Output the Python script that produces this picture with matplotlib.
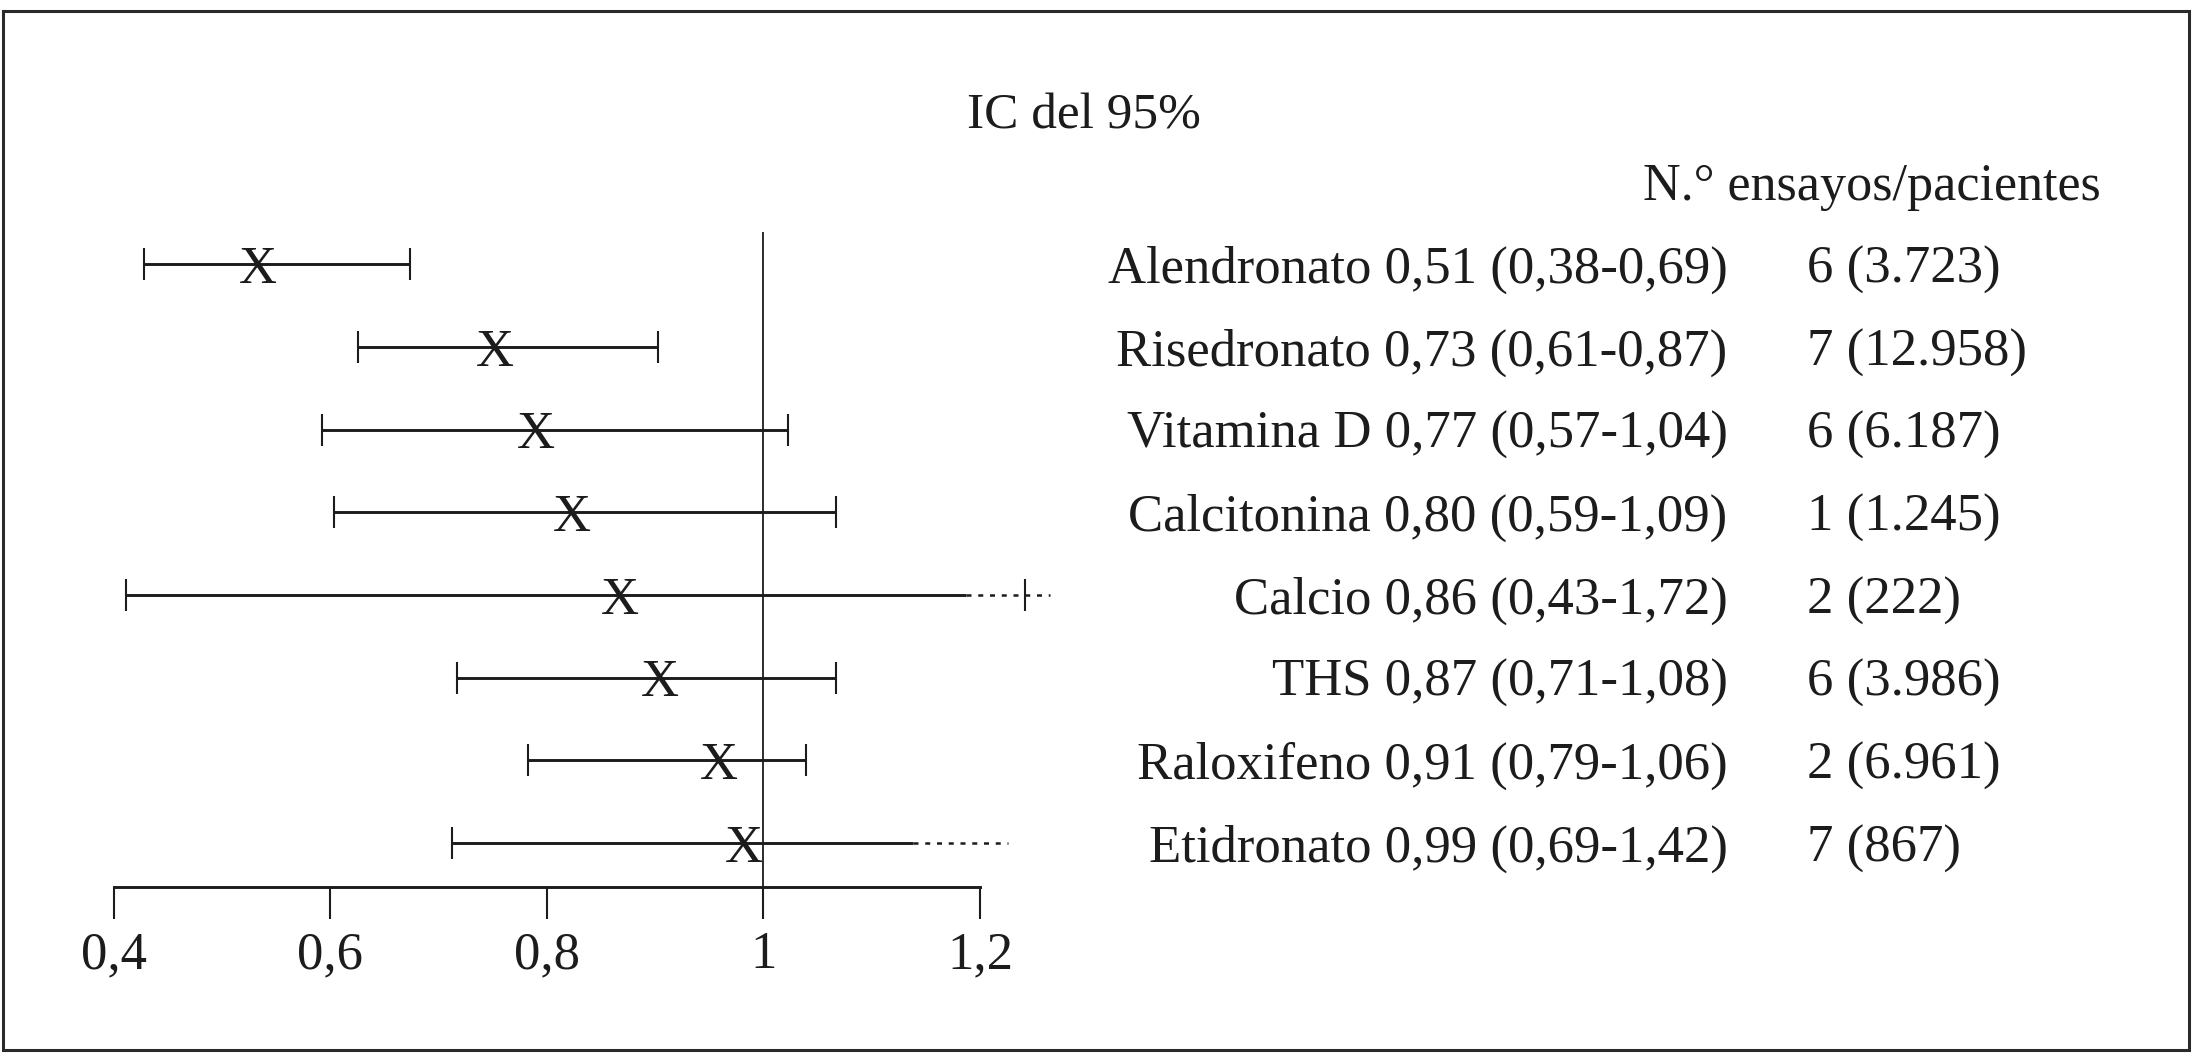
import matplotlib
matplotlib.use("Agg")
import matplotlib.pyplot as plt
from matplotlib.patches import Rectangle
from matplotlib.transforms import blended_transform_factory

plt.rcParams['font.family'] = ['Liberation Serif', 'DejaVu Serif']

# Datos (posiciones tal como aparecen dibujadas en la figura)
drugs = ['Alendronato', 'Risedronato', 'Vitamina D', 'Calcitonina',
         'Calcio', 'THS', 'Raloxifeno', 'Etidronato']
rr_text = ['0,51 (0,38-0,69)', '0,73 (0,61-0,87)', '0,77 (0,57-1,04)',
           '0,80 (0,59-1,09)', '0,86 (0,43-1,72)', '0,87 (0,71-1,08)',
           '0,91 (0,79-1,06)', '0,99 (0,69-1,42)']
trials = ['6 (3.723)', '7 (12.958)', '6 (6.187)', '1 (1.245)',
          '2 (222)', '6 (3.986)', '2 (6.961)', '7 (867)']
x_point = [0.533, 0.752, 0.790, 0.823, 0.867, 0.904, 0.959, 0.982]
ci_low = [0.428, 0.625, 0.592, 0.603, 0.411, 0.717, 0.782, 0.712]
solid_high = [0.673, 0.903, 1.023, 1.067, 1.187, 1.067, 1.039, 1.138]
cap_high = [0.673, 0.903, 1.023, 1.067, 1.242, 1.067, 1.039, None]
dotted_high = [None, None, None, None, 1.265, None, None, 1.226]

ticks = [0.4, 0.6, 0.8, 1.0, 1.2]
tick_labels = ['0,4', '0,6', '0,8', '1', '1,2']

ink = '#1c1c1c'

fig = plt.figure(figsize=(22.05, 10.61), dpi=100)
ax = fig.add_axes([0.0517, 0.1640, 0.39274, 0.61734])
ax.set_xlim(0.4, 1.2)
ax.set_ylim(7.532, -0.392)

rows = list(range(len(drugs)))
for i in rows:
    ax.hlines(i, ci_low[i], solid_high[i], color=ink, lw=2.1, clip_on=False)
    if dotted_high[i] is not None:
        ax.plot([solid_high[i], dotted_high[i]], [i, i], color=ink, lw=1.8,
                linestyle=(0, (2.0, 2.7)), clip_on=False)
    ax.plot([ci_low[i]], [i], marker='|', ms=23, mew=1.5, color=ink, clip_on=False)
    if cap_high[i] is not None:
        ax.plot([cap_high[i]], [i], marker='|', ms=23, mew=1.5, color=ink, clip_on=False)
    ax.text(x_point[i], i, 'X', fontsize=38, ha='center', va='center_baseline',
            color=ink, clip_on=False)

ax.axvline(1.0, color=ink, lw=1.3)

for s in ['top', 'right', 'left']:
    ax.spines[s].set_visible(False)
ax.spines['bottom'].set_linewidth(2.1)
ax.spines['bottom'].set_color(ink)
ax.set_yticks([])
ax.set_xticks(ticks)
ax.set_xticklabels(tick_labels, fontsize=38, color=ink)
ax.tick_params(axis='x', direction='out', length=23, width=1.5, pad=9, color=ink)
ax.patch.set_visible(False)

# Columnas de texto a la derecha
tr = blended_transform_factory(fig.transFigure, ax.transData)
for i in rows:
    ax.text(0.7835, i, drugs[i] + ' ' + rr_text[i], transform=tr, fontsize=38,
            ha='right', va='center_baseline', color=ink)
    ax.text(0.8195, i, trials[i], transform=tr, fontsize=38,
            ha='left', va='center_baseline', color=ink)

fig.text(0.4916, 0.8954, 'IC del 95%', fontsize=37, ha='center',
         va='center_baseline', color=ink)
fig.text(0.8488, 0.8285, 'N.° ensayos/pacientes', fontsize=37.5, ha='center',
         va='center_baseline', color=ink)

# Marco exterior
fig.add_artist(Rectangle((0.00136, 0.0099), 0.99138, 0.97973, transform=fig.transFigure,
                         fill=False, lw=2.2, edgecolor='#2a2a2a'))

fig.savefig('out.png', dpi=100)
